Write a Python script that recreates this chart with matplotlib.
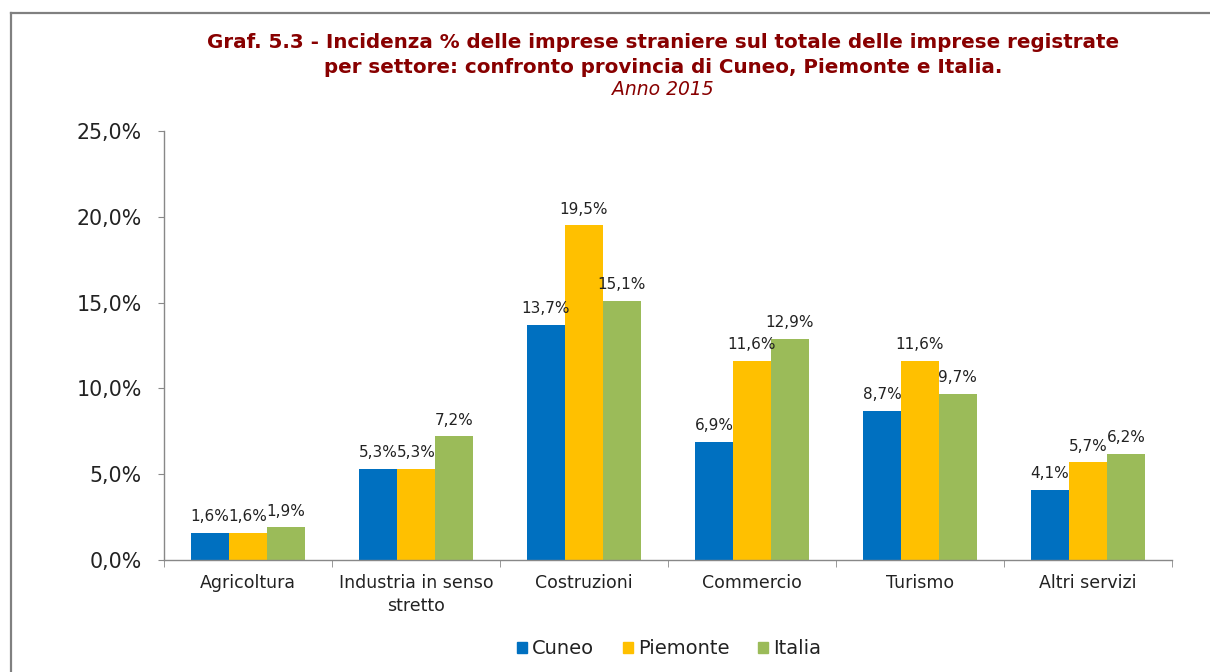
import numpy as np
import matplotlib.pyplot as plt
from matplotlib.lines import Line2D
from matplotlib.patches import Patch
from matplotlib.ticker import FixedLocator, NullFormatter, FuncFormatter

categories = ['Agricoltura', 'Industria in senso\nstretto', 'Costruzioni',
              'Commercio', 'Turismo', 'Altri servizi']
cuneo = [1.6, 5.3, 13.7, 6.9, 8.7, 4.1]
piemonte = [1.6, 5.3, 19.5, 11.6, 11.6, 5.7]
italia = [1.9, 7.2, 15.1, 12.9, 9.7, 6.2]

series = [('Cuneo', cuneo, '#0070C0'),
          ('Piemonte', piemonte, '#FFC000'),
          ('Italia', italia, '#9BBB59')]

fig = plt.figure(figsize=(12.1, 6.72), dpi=100)
ax = fig.add_axes([0.1355, 0.1667, 0.833, 0.6383])

x = np.arange(len(categories))
width = 0.226
for i, (name, vals, color) in enumerate(series):
    pos = x + (i - 1) * width
    ax.bar(pos, vals, width, color=color, label=name, zorder=2)
    for px, v in zip(pos, vals):
        ax.text(px, v + 0.5, f'{v:.1f}%'.replace('.', ','), ha='center',
                va='bottom', fontsize=11, color='#222222', zorder=3)

ax.set_xlim(-0.5, len(categories) - 0.5)
ax.set_ylim(0, 25)
ax.set_yticks(np.arange(0, 26, 5))
ax.yaxis.set_major_formatter(FuncFormatter(lambda v, p: f'{v:.1f}%'.replace('.', ',')))
ax.tick_params(axis='y', labelsize=14.8, length=4, color='#888888', pad=12,
               labelcolor='#222222')

ax.set_xticks(x)
ax.set_xticklabels(categories, fontsize=12.5, linespacing=1.35, color='#222222')
ax.tick_params(axis='x', which='major', length=0, pad=10)
ax.xaxis.set_minor_locator(FixedLocator(np.arange(-0.5, len(categories), 1.0)))
ax.xaxis.set_minor_formatter(NullFormatter())
ax.tick_params(axis='x', which='minor', length=5, color='#888888')

for s in ['top', 'right']:
    ax.spines[s].set_visible(False)
for s in ['left', 'bottom']:
    ax.spines[s].set_color('#888888')
    ax.spines[s].set_linewidth(1)

handles = [Patch(color=c, label=n) for n, _, c in series]
fig.legend(handles=handles, loc='center', bbox_to_anchor=(0.553, 0.035), ncol=3,
           frameon=False, fontsize=14, handlelength=0.5, handleheight=0.5,
           handletextpad=0.25, columnspacing=1.5, labelcolor='#222222')

title_color = '#880000'
fig.text(0.548, 0.937, 'Graf. 5.3 - Incidenza % delle imprese straniere sul totale delle imprese registrate',
         ha='center', va='center', fontsize=14.3, fontweight='bold', color=title_color)
fig.text(0.548, 0.900, 'per settore: confronto provincia di Cuneo, Piemonte e Italia.',
         ha='center', va='center', fontsize=14.3, fontweight='bold', color=title_color)
fig.text(0.548, 0.867, 'Anno 2015', ha='center', va='center', fontsize=13.5,
         style='italic', color=title_color)

# outer frame (left and top edges only)
fig.add_artist(Line2D([11 / 1210, 11 / 1210], [0, 1 - 13 / 672], color='#808080', lw=1.6))
fig.add_artist(Line2D([11 / 1210, 1], [1 - 13 / 672, 1 - 13 / 672], color='#808080', lw=1.6))

fig.savefig('out.png', dpi=100)
